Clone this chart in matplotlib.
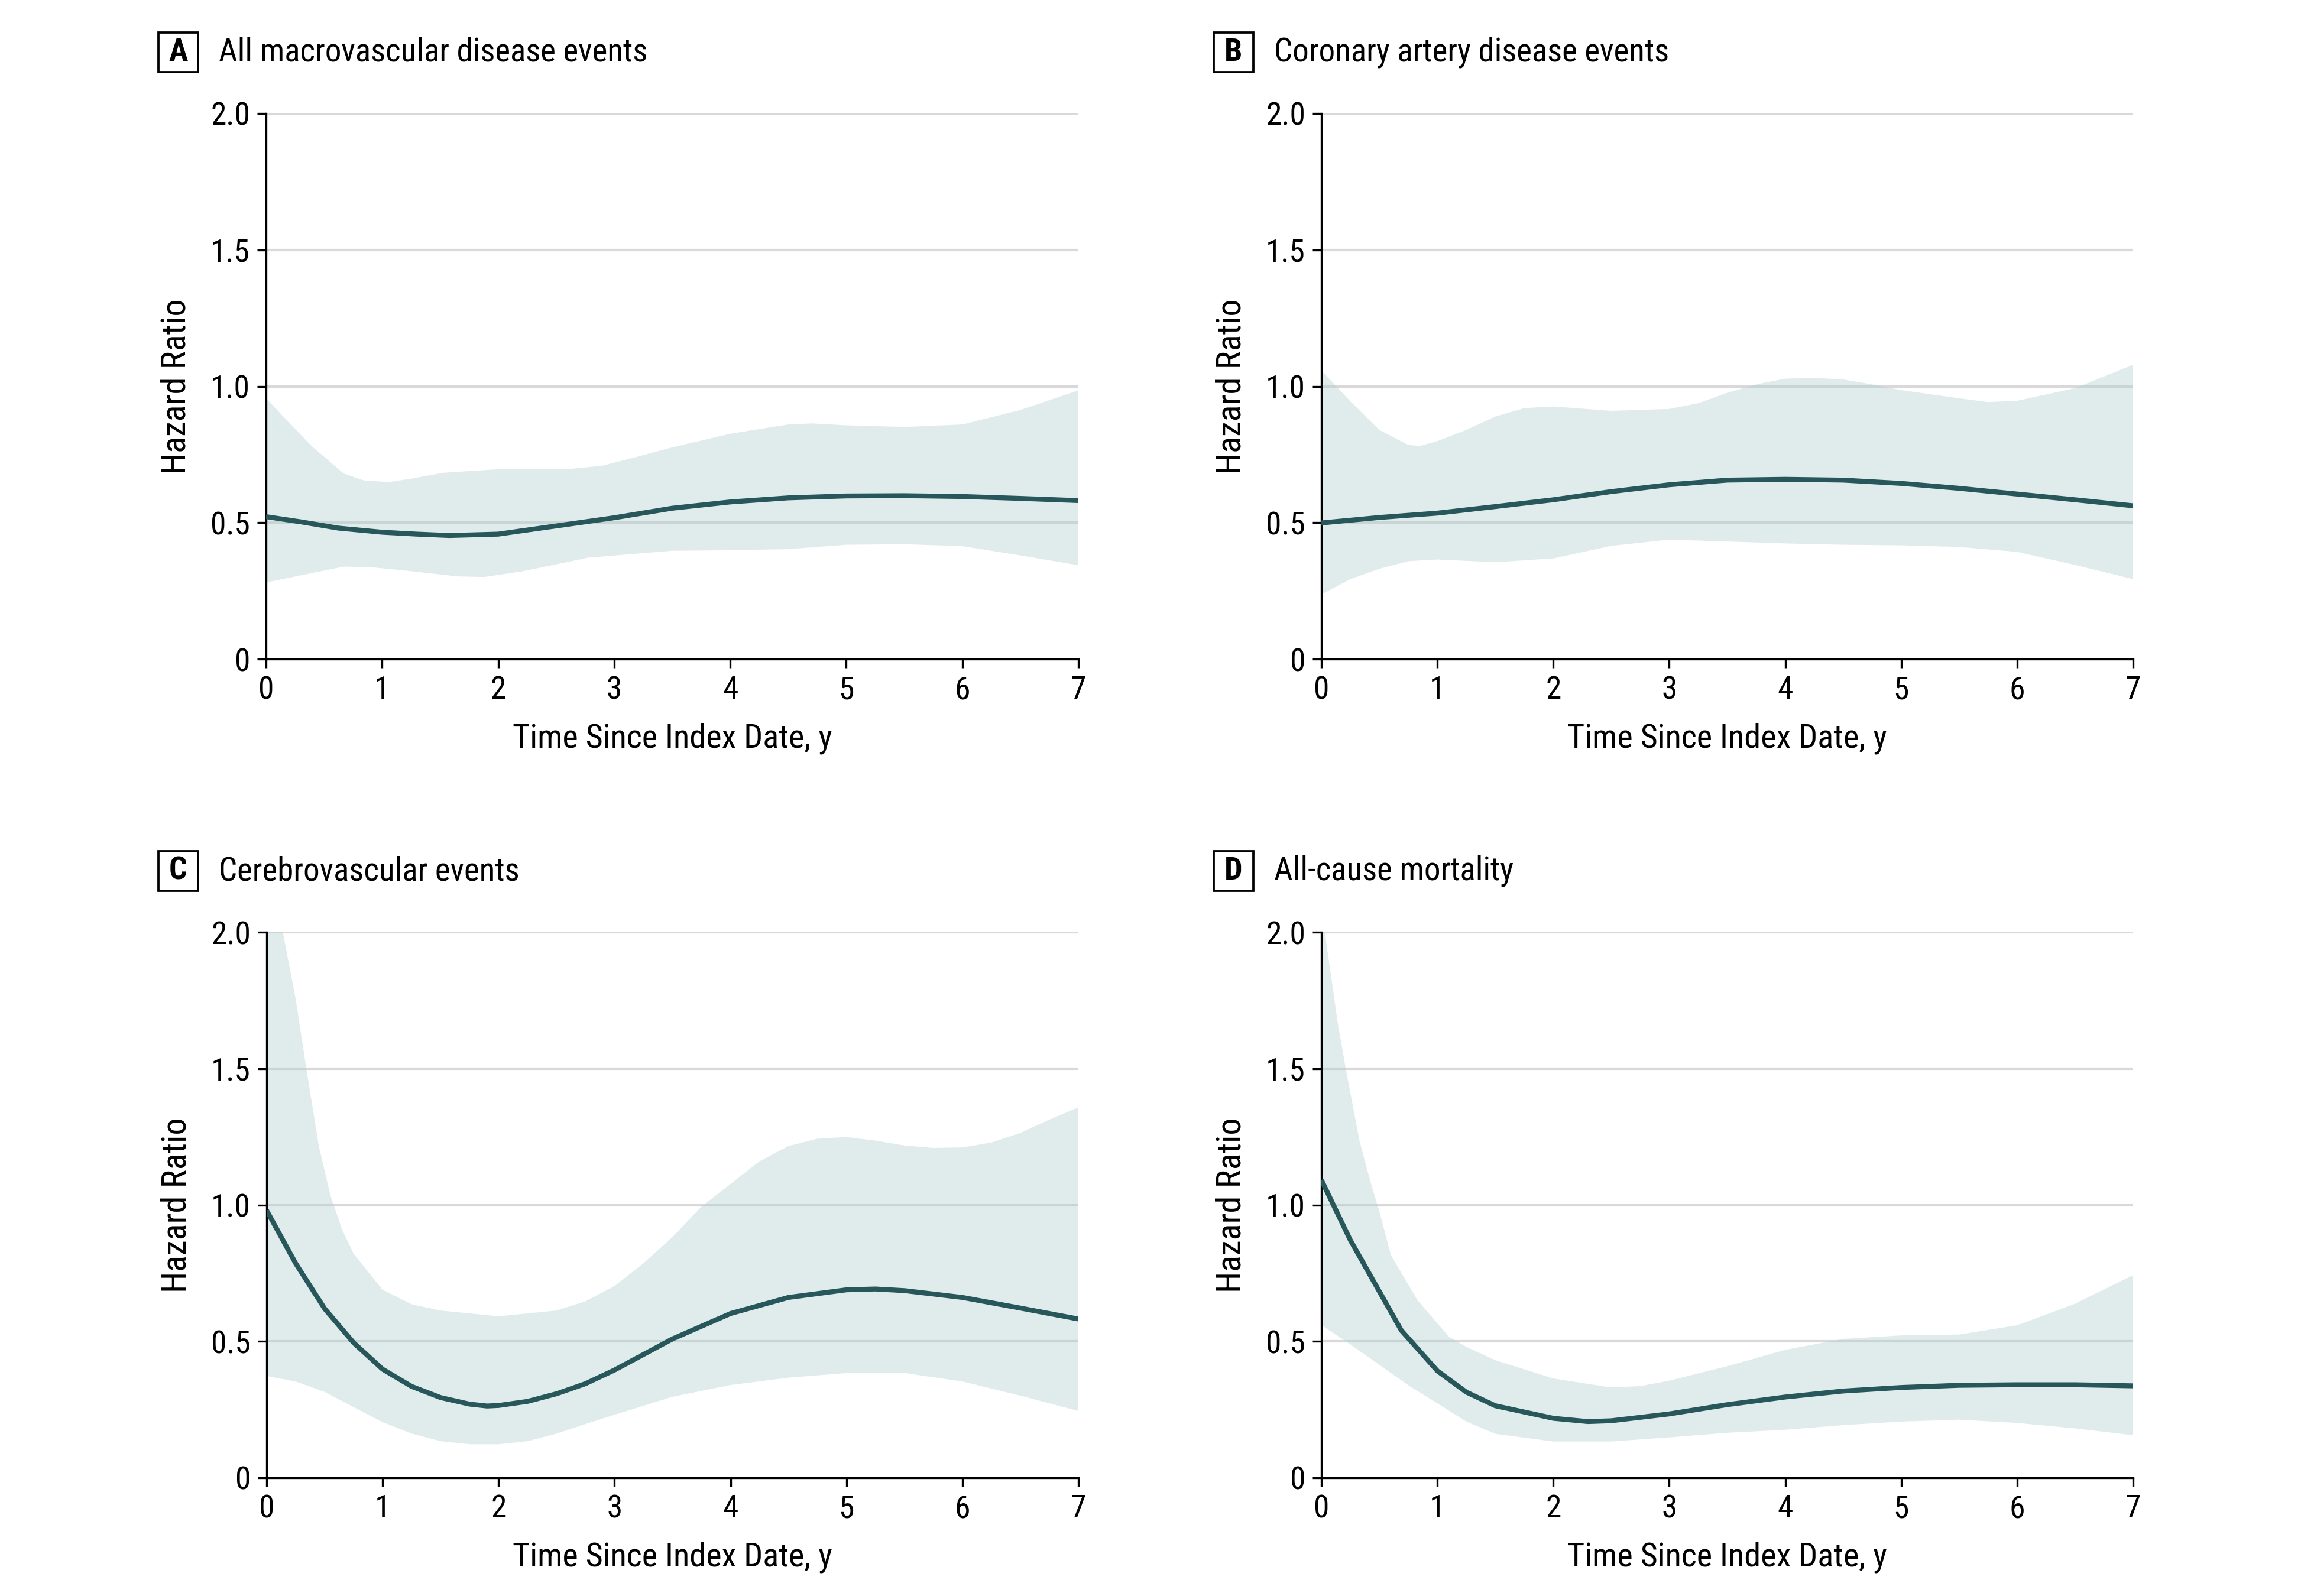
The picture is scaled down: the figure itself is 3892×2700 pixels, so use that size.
import matplotlib
matplotlib.use("Agg")
import matplotlib.pyplot as plt
from matplotlib import font_manager
from matplotlib.patches import Rectangle

installed = {f.name for f in font_manager.fontManager.ttflist}
FONT = next((f for f in ["Liberation Sans Narrow", "Roboto Condensed", "Open Sans Condensed"]
             if f in installed), "DejaVu Sans")
plt.rcParams["font.family"] = [FONT, "DejaVu Sans"]

# panel titles
panel_letters = ["A", "B", "C", "D"]
panel_titles = [
    "All macrovascular disease events",
    "Coronary artery disease events",
    "Cerebrovascular events",
    "All-cause mortality",
]

# A: all macrovascular disease events
a_t = [0, 0.3, 0.625, 1, 1.3, 1.58, 2, 2.5, 3, 3.5, 4, 4.5, 5, 5.5, 6, 6.5, 7]
a_hr = [0.522, 0.503, 0.480, 0.465, 0.458, 0.453, 0.458, 0.488, 0.518, 0.553, 0.576, 0.591, 0.598, 0.599, 0.596, 0.589, 0.581]
a_up_t = [0, 0.17, 0.4, 0.67, 0.85, 1.06, 1.26, 1.53, 2, 2.6, 2.9, 3.13, 3.5, 4, 4.5, 4.7, 5, 5.5, 6, 6.5, 7]
a_up = [0.957, 0.879, 0.778, 0.680, 0.654, 0.649, 0.662, 0.683, 0.696, 0.696, 0.709, 0.734, 0.776, 0.826, 0.860, 0.864, 0.857, 0.851, 0.860, 0.913, 0.985]
a_lo_t = [0, 0.67, 0.9, 1.3, 1.65, 1.88, 2.2, 2.78, 3.5, 4, 4.5, 5, 5.5, 6, 6.5, 7]
a_lo = [0.281, 0.339, 0.337, 0.320, 0.303, 0.301, 0.321, 0.372, 0.397, 0.399, 0.403, 0.419, 0.421, 0.414, 0.380, 0.344]

# B: coronary artery disease events
b_t = [0, 0.5, 1, 1.5, 2, 2.5, 3, 3.5, 4, 4.5, 5, 5.5, 6, 6.5, 7]
b_hr = [0.499, 0.519, 0.535, 0.559, 0.584, 0.614, 0.639, 0.656, 0.659, 0.656, 0.644, 0.626, 0.605, 0.584, 0.562]
b_up_t = [0, 0.25, 0.5, 0.75, 0.85, 1, 1.25, 1.5, 1.75, 2, 2.5, 3, 3.25, 3.5, 3.75, 4, 4.25, 4.5, 4.75, 5, 5.5, 5.75, 6, 6.5, 7]
b_up = [1.058, 0.945, 0.840, 0.785, 0.781, 0.799, 0.840, 0.889, 0.920, 0.926, 0.910, 0.917, 0.938, 0.976, 1.007, 1.028, 1.031, 1.025, 1.007, 0.986, 0.956, 0.942, 0.947, 0.993, 1.079]
b_lo_t = [0, 0.25, 0.5, 0.75, 1, 1.5, 2, 2.5, 3, 3.5, 4, 4.5, 5, 5.5, 6, 6.5, 7]
b_lo = [0.237, 0.293, 0.331, 0.359, 0.365, 0.355, 0.369, 0.415, 0.438, 0.431, 0.424, 0.419, 0.417, 0.411, 0.393, 0.345, 0.293]

# C: cerebrovascular events
c_t = [0, 0.25, 0.5, 0.75, 1, 1.25, 1.5, 1.75, 1.9, 2, 2.25, 2.5, 2.75, 3, 3.5, 4, 4.5, 5, 5.25, 5.5, 6, 6.5, 7]
c_hr = [0.980, 0.786, 0.620, 0.495, 0.398, 0.335, 0.294, 0.270, 0.263, 0.265, 0.280, 0.308, 0.345, 0.395, 0.509, 0.602, 0.661, 0.689, 0.692, 0.686, 0.661, 0.622, 0.582]
c_up_t = [0, 0.14, 0.25, 0.35, 0.45, 0.55, 0.65, 0.75, 1, 1.25, 1.5, 2, 2.5, 2.75, 3, 3.25, 3.5, 3.75, 4, 4.25, 4.5, 4.75, 5, 5.25, 5.5, 5.75, 6, 6.25, 6.5, 6.75, 7]
c_up = [2.3, 2.0, 1.756, 1.479, 1.216, 1.035, 0.911, 0.821, 0.689, 0.636, 0.613, 0.592, 0.613, 0.647, 0.703, 0.786, 0.883, 0.994, 1.077, 1.160, 1.216, 1.243, 1.249, 1.236, 1.218, 1.209, 1.211, 1.229, 1.264, 1.313, 1.358]
c_lo_t = [0, 0.25, 0.5, 0.75, 1, 1.25, 1.5, 1.75, 2, 2.25, 2.5, 2.75, 3, 3.5, 4, 4.5, 5, 5.5, 6, 6.5, 7]
c_lo = [0.373, 0.353, 0.315, 0.259, 0.204, 0.162, 0.134, 0.123, 0.123, 0.134, 0.162, 0.197, 0.231, 0.297, 0.340, 0.367, 0.384, 0.384, 0.353, 0.301, 0.245]

# D: all-cause mortality
d_t = [0, 0.25, 0.5, 0.69, 1, 1.25, 1.5, 2, 2.3, 2.5, 3, 3.5, 4, 4.5, 5, 5.5, 6, 6.5, 7]
d_hr = [1.092, 0.871, 0.683, 0.540, 0.392, 0.314, 0.264, 0.218, 0.206, 0.209, 0.234, 0.268, 0.296, 0.318, 0.331, 0.339, 0.341, 0.341, 0.337]
d_up_t = [0, 0.03, 0.14, 0.21, 0.33, 0.42, 0.51, 0.6, 0.83, 1.1, 1.25, 1.5, 2, 2.5, 2.75, 3, 3.5, 4, 4.5, 5, 5.5, 6, 6.5, 7]
d_up = [2.05, 2.0, 1.670, 1.500, 1.233, 1.090, 0.961, 0.816, 0.650, 0.517, 0.480, 0.431, 0.364, 0.331, 0.336, 0.356, 0.409, 0.469, 0.509, 0.522, 0.525, 0.559, 0.638, 0.743]
d_lo_t = [0, 0.25, 0.5, 0.75, 1, 1.25, 1.5, 2, 2.5, 3, 3.5, 4, 4.5, 5, 5.5, 6, 6.5, 7]
d_lo = [0.560, 0.489, 0.414, 0.339, 0.273, 0.206, 0.161, 0.133, 0.133, 0.148, 0.165, 0.176, 0.193, 0.206, 0.213, 0.201, 0.181, 0.156]

x_ticks = [0, 1, 2, 3, 4, 5, 6, 7]
y_ticks = [0, 0.5, 1.0, 1.5, 2.0]
y_ticklabels = ["0", "0.5", "1.0", "1.5", "2.0"]

LINE = "#27575a"
FILL = "#b3cfcf"
GRID = "#d9d9d9"

panels = [
    (a_t, a_hr, a_up_t, a_up, a_lo_t, a_lo),
    (b_t, b_hr, b_up_t, b_up, b_lo_t, b_lo),
    (c_t, c_hr, c_up_t, c_up, c_lo_t, c_lo),
    (d_t, d_hr, d_up_t, d_up, d_lo_t, d_lo),
]

W, H = 3892, 2700
fig = plt.figure(figsize=(W / 300, H / 300), dpi=300)

# axes boxes in pixels: left, right, top, bottom
lefts = [450, 2235, 451, 2235]
rights = [1824, 3608, 1824, 3608]
tops = [192, 192, 1577, 1577]
bottoms = [1115, 1115, 2500, 2500]
# letter boxes (pixels): left edge, top edge, size
box_x = [268, 2053, 268, 2053]
box_y = [55, 55, 1440, 1440]
BOX = 67

for i, (t, hr, ut, up, lt, lo) in enumerate(panels):
    l, r, tp, b = lefts[i], rights[i], tops[i], bottoms[i]
    ax = fig.add_axes([l / W, 1 - b / H, (r - l) / W, (b - tp) / H])
    ax.set_xlim(0, 7)
    ax.set_ylim(0, 2.0)
    for yv in y_ticks[1:]:
        ax.axhline(yv, color=GRID, lw=1.0, zorder=1)
    # the band's two edges are read separately, so build one closed polygon
    poly_x = list(ut) + list(lt)[::-1]
    poly_y = list(up) + list(lo)[::-1]
    ax.fill(poly_x, poly_y, color=FILL, alpha=0.4, lw=0, zorder=2)
    ax.plot(t, hr, color=LINE, lw=2.0, zorder=3, solid_capstyle="butt",
            solid_joinstyle="round")

    ax.spines["top"].set_visible(False)
    ax.spines["right"].set_visible(False)
    ax.spines["left"].set_linewidth(0.8)
    ax.spines["bottom"].set_linewidth(0.8)
    ax.set_xticks(x_ticks)
    ax.set_yticks(y_ticks)
    ax.set_yticklabels(y_ticklabels)
    ax.tick_params(direction="out", length=3.5, width=0.8, labelsize=12.8, pad=3)
    ax.set_xlabel("Time Since Index Date, y", fontsize=13.5, va="center")
    ax.set_ylabel("Hazard Ratio", fontsize=14, va="center")
    ax.xaxis.set_label_coords(0.5, -0.145)
    ax.yaxis.set_label_coords(-0.1106, 0.5)

    # panel letter box and title
    bx, by = box_x[i], box_y[i]
    fig.patches.append(Rectangle((bx / W, 1 - (by + BOX) / H), BOX / W, BOX / H,
                                 transform=fig.transFigure, fill=False,
                                 ec="black", lw=0.9))
    cy = 1 - (by + BOX / 2) / H
    fig.text((bx + BOX / 2) / W, cy, panel_letters[i], fontsize=13,
             fontweight="bold", ha="center", va="center")
    fig.text((bx + 102) / W, cy, panel_titles[i], fontsize=13.2,
             ha="left", va="center")

fig.savefig("out.png", dpi=300)
